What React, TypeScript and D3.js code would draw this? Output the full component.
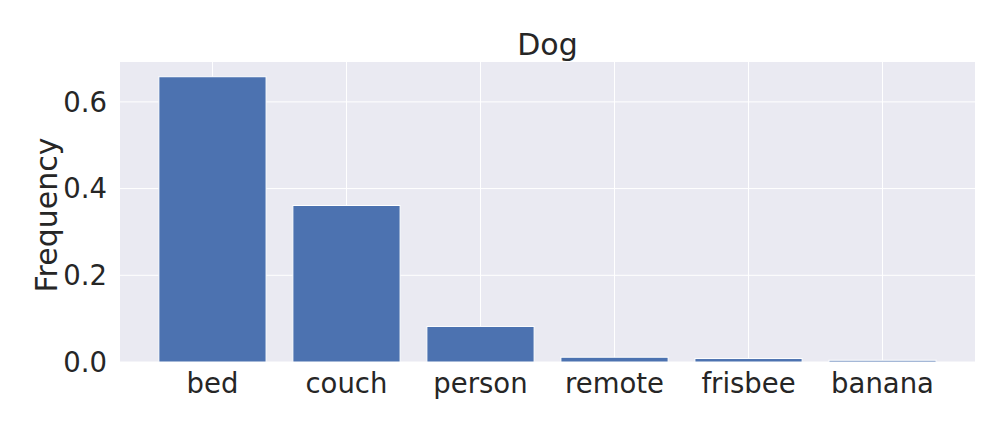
import React, { useEffect, useRef } from "react";
import * as d3 from "d3";

const categories = ["bed", "couch", "person", "remote", "frisbee", "banana"];
const frequencies = [0.658, 0.361, 0.082, 0.011, 0.008, 0.004];
const yTicks = [0, 0.2, 0.4, 0.6];

const W = 1008;
const H = 432;
const left = 120;
const right = 975;
const top = 62;
const bottom = 362;

export default function App() {
  const ref = useRef<SVGGElement>(null);

  useEffect(() => {
    const g = d3.select(ref.current);
    g.selectAll("*").remove();

    const x = d3.scaleLinear().domain([-0.69, categories.length - 1 + 0.69]).range([left, right]);
    const y = d3.scaleLinear().domain([0, 0.692]).range([bottom, top]);
    const bw = x(0.4) - x(-0.4);

    g.append("rect")
      .attr("x", left)
      .attr("y", top)
      .attr("width", right - left)
      .attr("height", bottom - top)
      .attr("fill", "#eaeaf2");

    // grid
    g.selectAll(".hgrid")
      .data(yTicks)
      .enter()
      .append("line")
      .attr("x1", left)
      .attr("x2", right)
      .attr("y1", (d) => y(d))
      .attr("y2", (d) => y(d))
      .attr("stroke", "white")
      .attr("stroke-width", 1);

    g.selectAll(".vgrid")
      .data(categories)
      .enter()
      .append("line")
      .attr("x1", (_, i) => x(i))
      .attr("x2", (_, i) => x(i))
      .attr("y1", top)
      .attr("y2", bottom)
      .attr("stroke", "white")
      .attr("stroke-width", 1);

    g.selectAll(".bar")
      .data(frequencies)
      .enter()
      .append("rect")
      .attr("x", (_, i) => x(i) - bw / 2)
      .attr("y", (d) => y(d))
      .attr("width", bw)
      .attr("height", (d) => bottom - y(d))
      .attr("fill", "#4c72b0")
      .attr("stroke", "white")
      .attr("stroke-width", 1);

    const font = "'DejaVu Sans', sans-serif";

    g.selectAll(".xlab")
      .data(categories)
      .enter()
      .append("text")
      .attr("x", (_, i) => x(i))
      .attr("y", bottom + 31)
      .attr("text-anchor", "middle")
      .attr("font-family", font)
      .attr("font-size", 27.5)
      .attr("fill", "#262626")
      .text((d) => d);

    g.selectAll(".ylab")
      .data(yTicks)
      .enter()
      .append("text")
      .attr("x", left - 13)
      .attr("y", (d) => y(d))
      .attr("dy", "0.36em")
      .attr("text-anchor", "end")
      .attr("font-family", font)
      .attr("font-size", 27.5)
      .attr("fill", "#262626")
      .text((d) => d.toFixed(1));

    g.append("text")
      .attr("transform", `translate(57,215) rotate(-90)`)
      .attr("text-anchor", "middle")
      .attr("font-family", font)
      .attr("font-size", 30)
      .attr("fill", "#262626")
      .text("Frequency");

    g.append("text")
      .attr("x", (left + right) / 2)
      .attr("y", 55)
      .attr("text-anchor", "middle")
      .attr("font-family", font)
      .attr("font-size", 30)
      .attr("fill", "#262626")
      .text("Dog");
  }, []);

  return (
    <svg width={W} height={H} style={{ position: "absolute", left: 0, top: 0, background: "white" }}>
      <g ref={ref} />
    </svg>
  );
}
